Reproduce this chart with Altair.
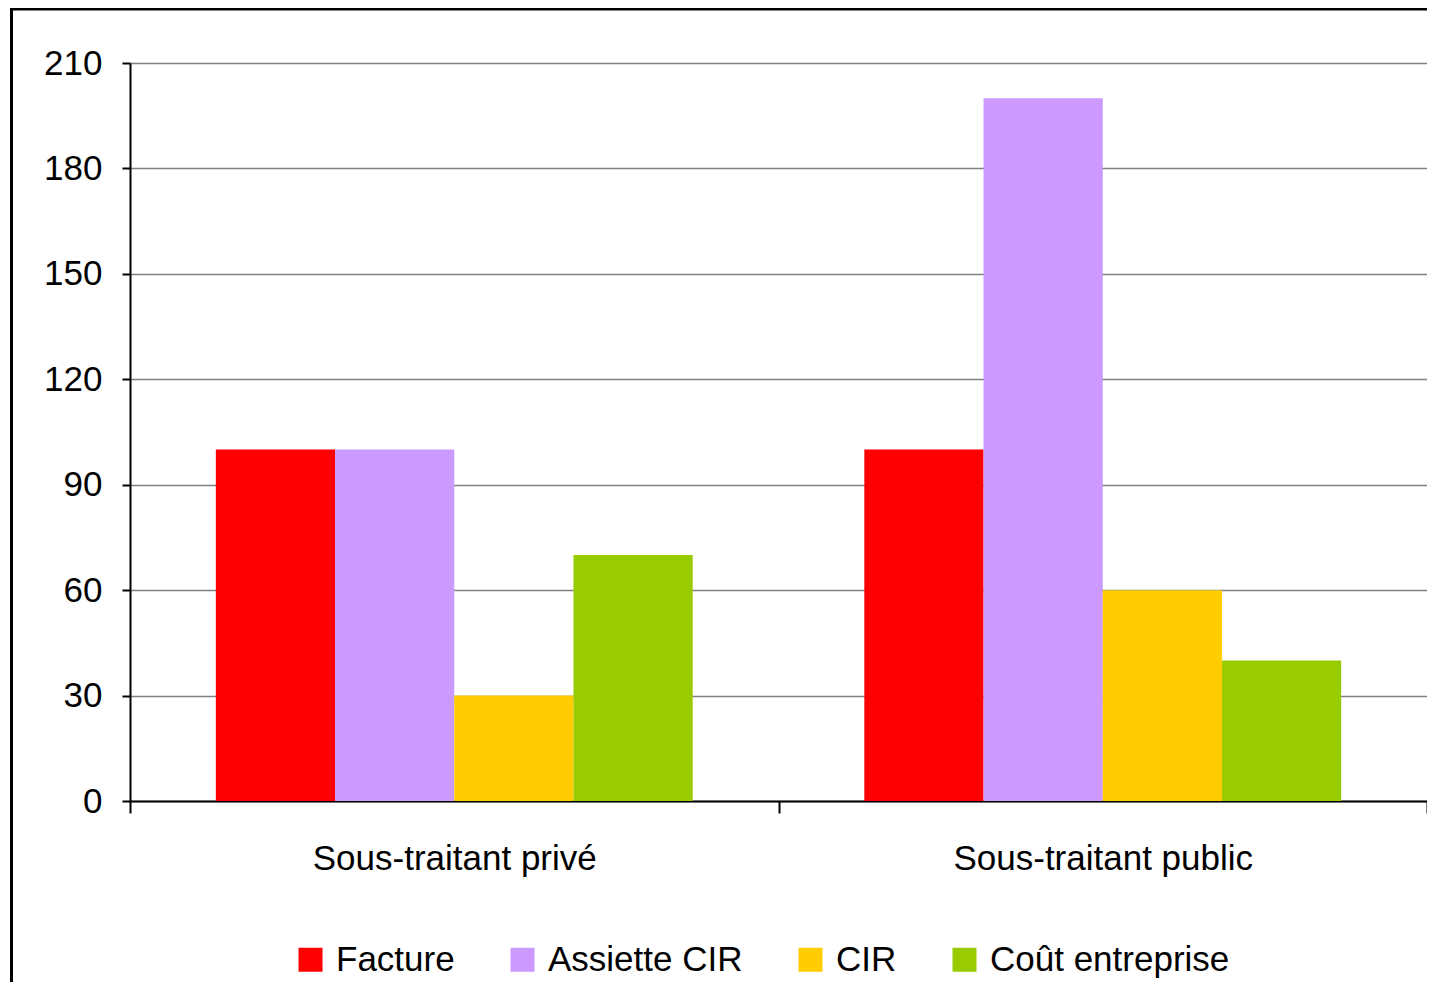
import altair as alt
import pandas as pd

categories = ["Sous-traitant privé", "Sous-traitant public"]
series = ["Facture", "Assiette CIR", "CIR", "Coût entreprise"]
values_prive = [100, 100, 30, 70]
values_public = [100, 200, 60, 40]
colors = ["#FF0000", "#CC99FF", "#FFCC00", "#99CC00"]
y_ticks = [0, 30, 60, 90, 120, 150, 180, 210]

rows = []
for cat, vals in zip(categories, [values_prive, values_public]):
    for s, v in zip(series, vals):
        rows.append({"cat": cat, "series": s, "value": v})
df = pd.DataFrame(rows)

FONT = "Liberation Sans"
W, H = 1297, 738

bars = alt.Chart(df).mark_bar(strokeWidth=0).encode(
    x=alt.X(
        "cat:N",
        sort=categories,
        scale=alt.Scale(paddingInner=0, paddingOuter=0),
        axis=alt.Axis(
            title=None, labelAngle=0, tickBand="extent", tickSize=12, tickWidth=2,
            tickColor="black", domainColor="black", domainWidth=2,
            labelFontSize=35, labelFont=FONT, labelColor="black", labelPadding=28,
            labelLimit=800, grid=False,
        ),
    ),
    xOffset=alt.XOffset("series:N", sort=series,
                        scale=alt.Scale(paddingInner=0, paddingOuter=0.72)),
    y=alt.Y(
        "value:Q",
        scale=alt.Scale(domain=[0, 210], nice=False, zero=True),
        axis=alt.Axis(
            title=None, values=y_ticks, tickSize=8, tickWidth=2, tickColor="black",
            domainColor="black", domainWidth=2, labelFontSize=35, labelFont=FONT,
            labelColor="black", labelPadding=20, grid=True, gridColor="#808080",
            gridWidth=1.5,
        ),
    ),
    color=alt.Color(
        "series:N",
        sort=series,
        scale=alt.Scale(domain=series, range=colors),
        legend=alt.Legend(
            title=None, orient="none", legendX=163, legendY=879, direction="horizontal",
            symbolType="square", symbolSize=576, symbolStrokeWidth=0,
            labelFontSize=35, labelFont=FONT, labelColor="black", labelOffset=8,
            columnPadding=50, labelLimit=400,
        ),
    ),
)

frame = alt.Chart(pd.DataFrame({"a": [0]})).mark_rect(
    fill=None, stroke="black", strokeWidth=3
).encode(
    x=alt.value(-118.5), x2=alt.value(W + 200),
    y=alt.value(-54), y2=alt.value(H + 400),
)

chart = alt.layer(frame, bars).properties(
    width=W, height=H,
    padding={"left": 122, "top": 55, "right": 0, "bottom": 181},
    autosize="none",
    background="white",
).configure_view(stroke=None)

chart.save("out.html", embed_options={"renderer": "svg", "actions": False})
